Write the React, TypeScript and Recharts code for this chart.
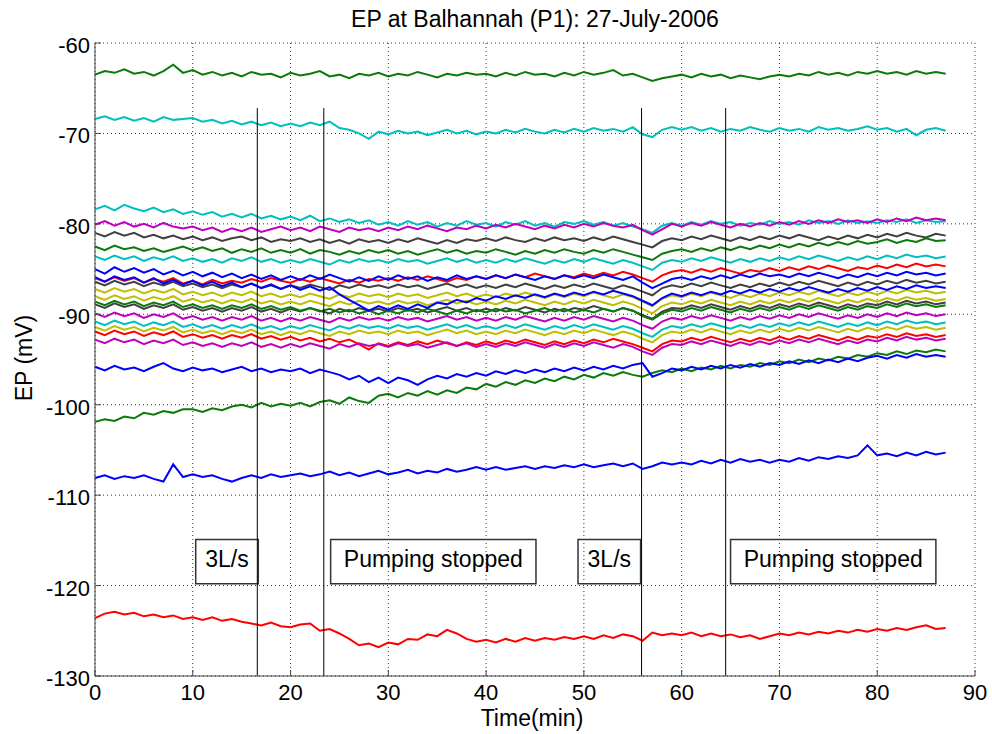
import { LineChart, Line, XAxis, YAxis, CartesianGrid, ReferenceLine, ReferenceArea } from 'recharts';

// time axis (minutes), one reading per minute
const TIME = [
  0, 1, 2, 3, 4, 5, 6, 7, 8, 9, 10, 11, 12, 13, 14, 15, 16, 17, 18, 19,
  20, 21, 22, 23, 24, 25, 26, 27, 28, 29, 30, 31, 32, 33, 34, 35, 36, 37, 38, 39,
  40, 41, 42, 43, 44, 45, 46, 47, 48, 49, 50, 51, 52, 53, 54, 55, 56, 57, 58, 59,
  60, 61, 62, 63, 64, 65, 66, 67, 68, 69, 70, 71, 72, 73, 74, 75, 76, 77, 78, 79,
  80, 81, 82, 83, 84, 85, 86, 87,
];

const X_TICKS = [0, 10, 20, 30, 40, 50, 60, 70, 80, 90];
const Y_TICKS = [-130, -120, -110, -100, -90, -80, -70, -60];

// electrode potentials (mV), one array per electrode
const EP01 = [
  -63.5,-63.1,-63.3,-62.9,-63.4,-63.2,-63.6,-63.1,-62.4,-63.3,
  -63.0,-63.5,-63.2,-63.6,-63.3,-63.7,-63.2,-63.5,-63.4,-63.8,
  -63.3,-63.6,-63.4,-63.1,-63.7,-63.5,-63.9,-63.4,-63.6,-63.3,
  -63.7,-63.4,-63.6,-63.2,-63.5,-63.8,-63.4,-63.6,-63.3,-63.5,
  -63.4,-63.7,-63.3,-63.6,-63.2,-63.5,-63.4,-63.7,-63.3,-63.6,
  -63.2,-63.5,-63.3,-63.0,-63.6,-63.4,-63.8,-64.2,-63.9,-63.7,
  -63.5,-63.8,-63.4,-63.7,-63.5,-63.9,-63.6,-63.8,-64.0,-63.7,
  -63.5,-63.7,-63.4,-63.6,-63.2,-63.5,-63.3,-63.6,-63.2,-63.4,
  -63.1,-63.4,-63.2,-63.5,-63.1,-63.4,-63.2,-63.4];
const EP02 = [
  -68.4,-68.1,-68.5,-68.2,-68.6,-68.3,-68.7,-68.2,-68.5,-68.4,
  -68.3,-68.7,-68.5,-68.9,-68.6,-69.0,-68.7,-69.1,-68.8,-69.2,
  -68.9,-69.2,-68.8,-69.1,-68.7,-69.4,-69.6,-70.0,-70.6,-69.8,
  -70.1,-69.7,-70.0,-69.8,-70.2,-69.9,-69.6,-70.0,-69.7,-70.1,
  -69.8,-70.0,-69.6,-69.9,-69.5,-69.8,-70.0,-69.6,-69.9,-69.5,
  -69.8,-69.4,-69.7,-69.5,-69.8,-69.3,-70.1,-70.4,-69.6,-69.3,
  -69.6,-69.3,-69.7,-69.4,-69.8,-69.5,-69.7,-69.3,-69.6,-69.8,
  -69.4,-69.7,-69.5,-69.8,-69.3,-69.6,-69.4,-69.7,-69.5,-69.2,
  -69.6,-69.4,-69.8,-69.5,-70.2,-69.6,-69.4,-69.7];
const EP03 = [
  -78.4,-78.0,-78.5,-77.9,-78.3,-78.6,-78.2,-78.7,-78.4,-78.9,
  -78.6,-79.0,-78.7,-79.2,-78.9,-79.3,-78.9,-79.4,-79.1,-79.5,
  -79.2,-79.6,-79.1,-79.7,-79.4,-79.8,-79.5,-79.9,-79.6,-80.1,
  -79.8,-80.2,-79.7,-80.1,-79.8,-80.3,-79.9,-80.2,-79.7,-80.1,
  -79.9,-80.3,-79.8,-80.1,-79.7,-80.2,-79.9,-80.3,-79.8,-80.0,
  -79.7,-80.1,-79.8,-80.2,-79.9,-80.3,-80.6,-81.0,-80.2,-79.9,
  -80.2,-79.8,-80.1,-79.7,-80.0,-79.8,-80.2,-79.9,-80.1,-79.7,
  -80.0,-79.8,-80.1,-79.6,-79.9,-79.7,-80.0,-79.6,-79.9,-79.7,
  -79.9,-79.6,-79.8,-79.5,-79.9,-79.6,-79.8,-79.7];
const EP04 = [
  -80.1,-79.7,-80.2,-79.8,-80.3,-80.0,-80.4,-79.9,-80.3,-80.5,
  -80.3,-80.7,-80.4,-80.9,-80.5,-80.8,-80.4,-80.9,-80.6,-80.3,
  -80.7,-80.4,-80.8,-80.3,-80.6,-80.9,-80.4,-80.7,-80.5,-80.8,
  -80.4,-80.7,-80.3,-80.6,-80.2,-80.5,-80.8,-80.4,-80.6,-80.2,
  -80.5,-80.1,-80.4,-80.0,-80.3,-80.6,-80.2,-80.5,-80.1,-80.4,
  -80.0,-80.3,-79.9,-80.2,-80.4,-80.1,-80.7,-81.2,-80.6,-80.0,
  -80.3,-79.9,-80.2,-79.8,-80.1,-80.4,-80.0,-80.3,-79.9,-80.2,
  -79.8,-80.1,-79.7,-80.0,-79.6,-79.9,-79.5,-79.8,-79.6,-79.9,
  -79.5,-79.8,-79.4,-79.7,-79.3,-79.6,-79.4,-79.6];
const EP05 = [
  -81.0,-81.4,-80.9,-81.3,-81.0,-81.5,-81.2,-81.6,-81.3,-81.7,
  -81.4,-81.8,-81.5,-81.9,-81.6,-81.4,-81.8,-81.5,-82.0,-81.7,
  -81.9,-81.6,-82.0,-81.7,-82.1,-81.8,-82.2,-81.7,-82.0,-81.8,
  -82.1,-81.7,-82.0,-81.6,-81.9,-82.2,-81.8,-82.1,-81.7,-81.9,
  -81.6,-81.9,-81.5,-81.8,-82.0,-81.6,-81.9,-81.5,-81.8,-81.6,
  -81.9,-81.5,-81.8,-81.4,-81.7,-82.0,-82.3,-82.6,-81.9,-81.6,
  -81.8,-81.4,-81.7,-81.3,-81.6,-81.9,-81.5,-81.8,-81.4,-81.7,
  -81.3,-81.6,-81.2,-81.5,-81.8,-81.4,-81.7,-81.3,-81.6,-81.2,
  -81.5,-81.1,-81.4,-81.0,-81.3,-81.5,-81.1,-81.3];
const EP06 = [
  -82.5,-82.9,-82.4,-82.8,-82.6,-83.0,-82.7,-83.1,-82.8,-82.5,
  -82.9,-82.6,-83.0,-82.7,-83.2,-82.8,-83.1,-82.7,-83.2,-82.9,
  -83.2,-82.8,-83.3,-82.9,-83.1,-83.4,-83.0,-83.3,-82.9,-83.2,
  -82.9,-83.3,-83.0,-83.4,-83.1,-82.8,-83.2,-82.9,-83.3,-83.0,
  -83.2,-82.8,-83.1,-83.4,-83.0,-83.3,-82.9,-83.2,-82.8,-83.1,
  -83.3,-82.9,-83.2,-82.8,-83.1,-83.4,-83.7,-84.0,-83.3,-83.0,
  -82.8,-83.1,-82.7,-83.0,-82.6,-82.9,-82.5,-82.8,-82.4,-82.7,
  -82.3,-82.6,-82.2,-82.5,-82.1,-82.4,-82.0,-82.3,-81.9,-82.2,
  -82.0,-81.7,-82.1,-81.8,-82.0,-81.6,-81.9,-81.8];
const EP07 = [
  -83.6,-84.0,-83.5,-83.9,-83.6,-84.1,-83.7,-84.0,-83.6,-84.1,
  -83.8,-84.2,-83.9,-84.3,-83.8,-84.1,-83.7,-84.2,-83.9,-84.3,
  -84.0,-84.3,-83.9,-84.2,-84.5,-84.0,-84.3,-83.9,-84.2,-84.0,
  -84.3,-83.9,-84.2,-84.0,-84.4,-84.1,-83.8,-84.2,-83.9,-84.3,
  -84.0,-84.3,-83.9,-84.2,-83.8,-84.1,-84.4,-84.0,-84.3,-83.9,
  -84.2,-83.8,-84.1,-84.4,-84.0,-84.3,-84.7,-85.1,-84.3,-84.0,
  -84.2,-83.8,-84.1,-83.7,-84.0,-84.3,-83.9,-84.2,-83.8,-84.1,
  -83.7,-84.0,-83.6,-83.9,-83.5,-83.8,-84.1,-83.7,-84.0,-83.6,
  -83.9,-83.5,-83.8,-83.4,-83.7,-83.5,-83.8,-83.6];
const EP08 = [
  -85.0,-85.5,-84.8,-85.3,-84.9,-85.4,-85.0,-85.6,-85.2,-85.7,
  -85.3,-85.8,-85.4,-85.9,-85.5,-86.0,-85.6,-86.1,-85.7,-86.2,
  -85.8,-86.2,-85.7,-86.1,-85.6,-86.0,-86.4,-85.9,-86.3,-85.8,
  -86.2,-85.7,-86.1,-85.8,-86.3,-85.9,-86.2,-85.7,-86.1,-85.8,
  -86.1,-85.7,-86.0,-85.6,-85.9,-86.2,-85.8,-86.1,-85.7,-86.0,
  -85.7,-86.0,-85.6,-85.9,-86.2,-85.8,-86.5,-87.1,-86.6,-86.1,
  -85.9,-86.2,-85.8,-86.1,-85.7,-86.0,-85.6,-85.9,-85.5,-85.8,
  -85.6,-85.9,-85.5,-85.8,-85.4,-85.7,-86.0,-85.6,-85.9,-85.5,
  -85.8,-85.4,-85.7,-85.3,-85.6,-85.4,-85.7,-85.5];
const EP09 = [
  -86.0,-86.4,-85.9,-86.3,-86.0,-86.5,-86.1,-86.4,-86.0,-86.6,
  -86.3,-86.7,-86.2,-86.6,-86.3,-86.5,-86.1,-86.4,-86.0,-86.3,
  -86.5,-86.1,-86.4,-86.0,-86.3,-86.6,-86.2,-86.5,-86.1,-86.3,
  -86.0,-86.3,-85.9,-86.2,-85.8,-86.1,-86.4,-86.0,-86.2,-85.8,
  -86.1,-85.7,-86.0,-85.6,-85.9,-85.5,-85.8,-86.1,-85.7,-85.9,
  -85.5,-85.8,-85.4,-85.7,-85.3,-85.6,-86.0,-86.4,-85.7,-85.3,
  -85.1,-85.4,-85.0,-85.3,-84.9,-85.2,-85.5,-85.1,-85.3,-84.9,
  -85.2,-84.8,-85.1,-84.7,-85.0,-84.6,-84.9,-85.2,-84.8,-85.0,
  -84.6,-84.9,-84.5,-84.8,-84.4,-84.7,-84.5,-84.7];
const EP10 = [
  -86.4,-86.8,-86.3,-86.7,-86.4,-86.9,-86.5,-86.8,-86.4,-86.9,
  -86.6,-87.0,-86.7,-87.1,-86.7,-87.0,-86.6,-87.1,-86.8,-87.2,
  -86.8,-87.1,-86.7,-87.0,-87.3,-86.8,-87.1,-86.7,-87.0,-86.8,
  -87.1,-86.7,-87.0,-86.8,-87.2,-86.9,-86.6,-87.0,-86.7,-87.1,
  -86.8,-87.1,-86.7,-87.0,-86.6,-86.9,-87.2,-86.8,-87.1,-86.7,
  -87.0,-86.6,-86.9,-87.2,-86.8,-87.1,-87.5,-87.9,-87.1,-86.8,
  -87.0,-86.6,-86.9,-86.5,-86.8,-87.1,-86.7,-87.0,-86.6,-86.9,
  -86.5,-86.8,-86.4,-86.7,-86.3,-86.6,-86.9,-86.5,-86.8,-86.4,
  -86.7,-86.3,-86.6,-86.2,-86.5,-86.3,-86.6,-86.4];
const EP11 = [
  -85.9,-86.4,-85.8,-86.2,-85.9,-86.5,-86.0,-86.6,-86.2,-86.7,
  -86.3,-86.8,-86.4,-86.9,-86.5,-87.0,-86.6,-87.1,-86.7,-87.2,
  -86.8,-87.3,-86.9,-87.4,-87.0,-87.8,-88.4,-89.0,-89.6,-89.1,
  -89.5,-89.0,-89.4,-88.9,-89.3,-88.7,-88.9,-88.4,-88.7,-88.2,
  -88.5,-88.0,-88.3,-87.9,-88.2,-87.8,-88.1,-87.7,-88.0,-87.6,
  -87.9,-87.5,-87.8,-87.4,-87.7,-88.0,-88.5,-89.0,-88.2,-87.7,
  -88.0,-87.6,-87.9,-87.5,-87.8,-87.4,-87.7,-87.3,-87.6,-87.2,
  -87.5,-87.1,-87.4,-87.0,-87.3,-87.6,-87.2,-87.5,-87.1,-87.4,
  -87.0,-87.3,-86.9,-87.2,-86.8,-87.1,-86.9,-87.1];
const EP12 = [
  -87.2,-87.6,-87.1,-87.5,-87.2,-87.7,-87.3,-87.6,-87.2,-87.8,
  -87.5,-87.9,-87.6,-88.0,-87.6,-87.9,-87.5,-88.0,-87.7,-88.1,
  -87.8,-88.1,-87.7,-88.0,-88.3,-87.8,-88.1,-87.7,-88.0,-87.8,
  -88.1,-87.7,-88.0,-87.8,-88.2,-87.9,-87.6,-88.0,-87.7,-88.1,
  -87.8,-88.1,-87.7,-88.0,-87.6,-87.9,-88.2,-87.8,-88.1,-87.7,
  -88.0,-87.6,-87.9,-88.2,-87.8,-88.1,-88.6,-89.1,-88.3,-87.9,
  -88.1,-87.7,-88.0,-87.6,-87.9,-88.2,-87.8,-88.1,-87.7,-88.0,
  -87.6,-87.9,-87.5,-87.8,-87.4,-87.7,-88.0,-87.6,-87.9,-87.5,
  -87.8,-87.4,-87.7,-87.3,-87.6,-87.4,-87.7,-87.5];
const EP13 = [
  -88.0,-88.4,-87.9,-88.3,-88.0,-88.5,-88.1,-88.4,-88.0,-88.6,
  -88.3,-88.7,-88.4,-88.8,-88.4,-88.7,-88.3,-88.8,-88.5,-88.9,
  -88.6,-88.9,-88.5,-88.8,-89.1,-88.6,-88.9,-88.5,-88.8,-88.6,
  -88.9,-88.5,-88.8,-88.6,-89.0,-88.7,-88.4,-88.8,-88.5,-88.9,
  -88.6,-88.9,-88.5,-88.8,-88.4,-88.7,-89.0,-88.6,-88.9,-88.5,
  -88.8,-88.4,-88.7,-89.0,-88.6,-88.9,-89.4,-89.9,-89.1,-88.7,
  -88.9,-88.5,-88.8,-88.4,-88.7,-89.0,-88.6,-88.9,-88.5,-88.8,
  -88.4,-88.7,-88.3,-88.6,-88.2,-88.5,-88.8,-88.4,-88.7,-88.3,
  -88.6,-88.2,-88.5,-88.1,-88.4,-88.2,-88.5,-88.3];
const EP14 = [
  -88.9,-89.3,-88.8,-89.2,-88.9,-89.4,-89.0,-89.3,-88.9,-89.5,
  -89.2,-89.6,-89.3,-89.7,-89.3,-89.6,-89.2,-89.7,-89.4,-89.8,
  -89.4,-89.7,-89.3,-89.6,-89.9,-89.4,-89.7,-89.3,-89.6,-89.4,
  -89.7,-89.3,-89.6,-89.4,-89.8,-89.5,-89.2,-89.6,-89.3,-89.7,
  -89.4,-89.7,-89.3,-89.6,-89.2,-89.5,-89.8,-89.4,-89.7,-89.3,
  -89.5,-89.1,-89.4,-89.7,-89.3,-89.6,-90.1,-90.5,-89.7,-89.3,
  -89.4,-89.0,-89.3,-88.9,-89.2,-89.5,-89.1,-89.4,-89.0,-89.3,
  -88.9,-89.2,-88.8,-89.1,-88.7,-89.0,-89.3,-88.9,-89.2,-88.8,
  -89.0,-88.6,-88.9,-88.5,-88.8,-88.6,-88.9,-88.7];
const EP15 = [
  -88.6,-89.0,-88.5,-88.9,-88.6,-89.1,-88.7,-89.0,-88.6,-89.2,
  -88.9,-89.3,-89.0,-89.4,-89.0,-89.3,-88.9,-89.4,-89.1,-89.5,
  -89.2,-89.6,-89.3,-89.7,-89.4,-89.8,-89.5,-89.9,-89.6,-90.0,
  -89.6,-89.9,-89.5,-89.8,-89.4,-89.7,-90.0,-89.6,-89.9,-89.5,
  -89.8,-89.4,-89.7,-89.5,-89.9,-89.6,-89.3,-89.7,-89.4,-89.8,
  -89.5,-89.8,-89.4,-89.7,-89.3,-89.6,-90.2,-90.6,-89.9,-89.5,
  -89.7,-89.3,-89.6,-89.2,-89.5,-89.8,-89.4,-89.7,-89.3,-89.6,
  -89.2,-89.5,-89.1,-89.4,-89.0,-89.3,-89.6,-89.2,-89.5,-89.1,
  -89.3,-88.9,-89.2,-88.8,-89.1,-88.9,-89.2,-89.0];
const EP16 = [
  -89.9,-90.3,-89.8,-90.2,-89.9,-90.4,-90.0,-90.3,-89.9,-90.5,
  -90.2,-90.6,-90.3,-90.7,-90.3,-90.6,-90.2,-90.7,-90.4,-90.8,
  -90.4,-90.7,-90.3,-90.6,-90.9,-90.4,-90.7,-90.3,-90.6,-90.4,
  -90.7,-90.3,-90.6,-90.4,-90.8,-90.5,-90.2,-90.6,-90.3,-90.7,
  -90.4,-90.7,-90.3,-90.6,-90.2,-90.5,-90.8,-90.4,-90.7,-90.3,
  -90.6,-90.2,-90.5,-90.8,-90.4,-90.7,-91.2,-91.6,-90.8,-90.4,
  -90.6,-90.2,-90.5,-90.1,-90.4,-90.7,-90.3,-90.6,-90.2,-90.5,
  -90.1,-90.4,-90.0,-90.3,-89.9,-90.2,-90.5,-90.1,-90.4,-90.0,
  -90.3,-89.9,-90.2,-89.8,-90.1,-89.9,-90.2,-90.0];
const EP17 = [
  -90.8,-91.2,-90.7,-91.1,-90.8,-91.3,-90.9,-91.2,-90.8,-91.4,
  -91.1,-91.5,-91.2,-91.6,-91.2,-91.5,-91.1,-91.6,-91.3,-91.7,
  -91.3,-91.6,-91.2,-91.5,-91.8,-91.3,-91.6,-91.2,-91.5,-91.3,
  -91.6,-91.2,-91.5,-91.3,-91.7,-91.4,-91.1,-91.5,-91.2,-91.6,
  -91.3,-91.6,-91.2,-91.5,-91.1,-91.4,-91.7,-91.3,-91.6,-91.2,
  -91.5,-91.1,-91.4,-91.7,-91.3,-91.6,-92.1,-92.5,-91.7,-91.3,
  -91.5,-91.1,-91.4,-91.0,-91.3,-91.6,-91.2,-91.5,-91.1,-91.4,
  -91.0,-91.3,-90.9,-91.2,-90.8,-91.1,-91.4,-91.0,-91.3,-90.9,
  -91.2,-90.8,-91.1,-90.7,-91.0,-90.8,-91.1,-90.9];
const EP18 = [
  -91.4,-91.8,-91.3,-91.7,-91.4,-91.9,-91.5,-91.8,-91.4,-92.0,
  -91.7,-92.1,-91.8,-92.2,-91.8,-92.1,-91.7,-92.2,-91.9,-92.3,
  -91.9,-92.2,-91.8,-92.1,-92.4,-91.9,-92.2,-91.8,-92.1,-91.9,
  -92.2,-91.8,-92.1,-91.9,-92.3,-92.0,-91.7,-92.1,-91.8,-92.2,
  -91.9,-92.2,-91.8,-92.1,-91.7,-92.0,-92.3,-91.9,-92.2,-91.8,
  -92.1,-91.7,-92.0,-92.3,-91.9,-92.2,-92.7,-93.1,-92.3,-91.9,
  -92.1,-91.7,-92.0,-91.6,-91.9,-92.2,-91.8,-92.1,-91.7,-92.0,
  -91.6,-91.9,-91.5,-91.8,-91.4,-91.7,-92.0,-91.6,-91.9,-91.5,
  -91.8,-91.4,-91.7,-91.3,-91.6,-91.4,-91.7,-91.5];
const EP19 = [
  -91.9,-92.3,-91.8,-92.2,-91.9,-92.4,-92.0,-92.3,-91.9,-92.5,
  -92.2,-92.6,-92.3,-92.7,-92.3,-92.6,-92.2,-92.7,-92.4,-92.8,
  -92.5,-92.9,-92.6,-93.0,-92.7,-93.1,-92.8,-93.3,-93.9,-93.2,
  -93.5,-93.1,-93.4,-93.0,-93.3,-92.9,-93.2,-93.5,-93.1,-93.4,
  -93.0,-93.3,-92.9,-93.2,-92.8,-93.1,-93.4,-93.0,-93.3,-92.9,
  -93.2,-92.8,-93.1,-92.7,-93.0,-93.3,-93.7,-94.1,-93.3,-92.9,
  -93.0,-92.6,-92.9,-92.5,-92.8,-93.1,-92.7,-93.0,-92.6,-92.9,
  -92.5,-92.8,-92.4,-92.7,-92.3,-92.6,-92.9,-92.5,-92.8,-92.4,
  -92.6,-92.2,-92.5,-92.1,-92.4,-92.2,-92.5,-92.3];
const EP20 = [
  -92.8,-93.2,-92.7,-93.1,-92.8,-93.3,-92.9,-93.2,-92.8,-93.4,
  -93.1,-93.5,-93.2,-93.6,-93.2,-93.5,-93.1,-93.6,-93.3,-93.7,
  -93.3,-93.6,-93.2,-93.5,-93.8,-93.3,-93.6,-93.2,-93.5,-93.3,
  -93.6,-93.2,-93.5,-93.3,-93.7,-93.4,-93.1,-93.5,-93.2,-93.6,
  -93.3,-93.6,-93.2,-93.5,-93.1,-93.4,-93.7,-93.3,-93.6,-93.2,
  -93.5,-93.1,-93.4,-93.7,-93.3,-93.6,-94.1,-94.5,-93.7,-93.3,
  -93.4,-93.0,-93.3,-92.9,-93.2,-93.5,-93.1,-93.4,-93.0,-93.3,
  -92.9,-93.2,-92.8,-93.1,-92.7,-93.0,-93.3,-92.9,-93.2,-92.8,
  -93.0,-92.6,-92.9,-92.5,-92.8,-92.6,-92.9,-92.7];
const EP21 = [
  -95.8,-96.2,-95.7,-96.1,-95.9,-96.3,-95.8,-95.4,-96.0,-96.3,
  -95.9,-96.2,-96.0,-96.4,-96.1,-95.8,-96.3,-96.0,-96.4,-96.1,
  -96.3,-96.0,-96.5,-96.1,-96.4,-96.7,-97.2,-96.8,-97.5,-97.0,
  -97.6,-97.0,-97.3,-97.8,-97.2,-96.8,-97.1,-96.6,-96.9,-96.5,
  -96.8,-96.3,-96.6,-96.2,-96.5,-96.1,-96.4,-96.0,-96.3,-95.9,
  -96.2,-95.8,-96.1,-95.7,-96.0,-95.6,-95.4,-96.9,-96.5,-96.0,
  -96.2,-95.8,-96.1,-95.7,-96.0,-95.6,-95.9,-95.5,-95.8,-95.4,
  -95.6,-95.2,-95.5,-95.1,-95.4,-95.0,-95.3,-94.9,-95.2,-94.8,
  -94.6,-94.9,-94.5,-94.8,-94.4,-94.7,-94.5,-94.7];
const EP22 = [
  -101.9,-101.6,-101.8,-101.3,-101.5,-100.9,-101.1,-100.7,-100.9,-100.5,
  -100.5,-100.8,-100.4,-100.6,-100.2,-100.0,-100.3,-99.8,-100.2,-99.9,
  -100.1,-99.8,-100.2,-99.7,-99.5,-99.9,-99.2,-99.6,-99.8,-99.0,
  -98.8,-99.2,-98.7,-99.0,-98.5,-98.9,-98.4,-98.7,-98.1,-98.3,
  -97.7,-98.0,-97.5,-97.8,-97.3,-97.6,-97.1,-97.4,-96.9,-97.2,
  -96.7,-97.0,-96.5,-96.8,-96.4,-96.7,-96.9,-96.5,-96.2,-96.4,
  -96.0,-96.3,-95.9,-96.1,-95.7,-96.0,-95.6,-95.8,-95.4,-95.6,
  -95.2,-95.4,-95.0,-95.3,-94.9,-95.1,-94.7,-94.9,-94.5,-94.7,
  -94.3,-94.5,-94.1,-94.4,-94.0,-94.2,-93.9,-94.1];
const EP23 = [
  -108.1,-107.8,-108.2,-107.9,-108.1,-107.8,-108.2,-108.5,-106.6,-108.0,
  -107.7,-108.0,-107.8,-108.2,-108.5,-108.1,-107.8,-108.1,-107.7,-108.0,
  -107.8,-107.6,-107.9,-107.7,-107.4,-107.8,-107.5,-107.9,-107.6,-107.3,
  -107.7,-107.5,-107.2,-107.6,-107.3,-107.5,-107.1,-107.4,-107.2,-106.9,
  -107.2,-106.9,-107.2,-107.0,-106.8,-107.1,-106.8,-107.0,-106.7,-106.9,
  -106.6,-106.9,-106.7,-106.5,-106.8,-106.5,-107.1,-106.8,-106.4,-106.6,
  -106.4,-106.6,-106.2,-106.5,-106.1,-106.4,-106.0,-106.3,-106.1,-106.4,
  -106.1,-106.3,-105.9,-106.2,-105.8,-106.0,-105.7,-105.9,-105.6,-104.5,
  -105.6,-105.4,-105.7,-105.3,-105.6,-105.2,-105.5,-105.3];
const EP24 = [
  -123.6,-123.1,-122.9,-123.2,-123.0,-123.4,-123.2,-123.5,-123.3,-123.7,
  -123.5,-123.8,-123.5,-123.9,-123.7,-124.0,-124.2,-124.4,-124.1,-124.5,
  -124.6,-124.3,-124.2,-125.0,-124.8,-125.3,-125.9,-126.6,-126.4,-126.8,
  -126.3,-126.5,-125.9,-126.0,-125.4,-125.6,-124.9,-125.3,-125.9,-126.2,
  -126.0,-126.3,-125.9,-126.2,-125.8,-126.1,-125.8,-126.0,-125.7,-125.9,
  -125.6,-125.9,-125.5,-125.8,-125.4,-125.6,-126.1,-125.2,-125.5,-125.3,
  -125.5,-125.2,-125.6,-125.3,-125.6,-125.4,-125.7,-125.5,-125.9,-125.6,
  -125.3,-125.5,-125.2,-125.4,-125.1,-125.3,-125.0,-125.2,-124.9,-125.1,
  -124.8,-125.0,-124.7,-124.9,-124.6,-124.4,-124.8,-124.7];

// pumping events: vertical markers and the text boxes
const EVENT_TIMES = [16.6, 23.4, 55.9, 64.5];
const EVENT_TOP = -67.2;
const NOTE_TEXT = ['3L/s', 'Pumping stopped', '3L/s', 'Pumping stopped'];
const NOTE_X1 = [10.3, 24.1, 49.4, 65.0];
const NOTE_X2 = [16.7, 45.1, 55.8, 86.0];
const NOTE_Y1 = -114.9;
const NOTE_Y2 = -119.8;

const BLUE = '#0000ff';
const GREEN = '#0a7a0a';
const RED = '#ff0000';
const CYAN = '#00bfbf';
const MAGENTA = '#bf00bf';
const YELLOW = '#bfbf00';
const DKGRAY = '#404040';

// drawing order (later = on top)
const SERIES = [
  { key: 'ep01', values: EP01, color: GREEN },
  { key: 'ep02', values: EP02, color: CYAN },
  { key: 'ep03', values: EP03, color: CYAN },
  { key: 'ep05', values: EP05, color: DKGRAY },
  { key: 'ep06', values: EP06, color: GREEN },
  { key: 'ep07', values: EP07, color: CYAN },
  { key: 'ep04', values: EP04, color: MAGENTA },
  { key: 'ep09', values: EP09, color: RED },
  { key: 'ep10', values: EP10, color: DKGRAY },
  { key: 'ep12', values: EP12, color: YELLOW },
  { key: 'ep13', values: EP13, color: YELLOW },
  { key: 'ep14', values: EP14, color: DKGRAY },
  { key: 'ep15', values: EP15, color: GREEN },
  { key: 'ep17', values: EP17, color: CYAN },
  { key: 'ep18', values: EP18, color: YELLOW },
  { key: 'ep16', values: EP16, color: MAGENTA },
  { key: 'ep19', values: EP19, color: RED },
  { key: 'ep20', values: EP20, color: MAGENTA },
  { key: 'ep08', values: EP08, color: BLUE },
  { key: 'ep11', values: EP11, color: BLUE },
  { key: 'ep22', values: EP22, color: GREEN },
  { key: 'ep21', values: EP21, color: BLUE },
  { key: 'ep23', values: EP23, color: BLUE },
  { key: 'ep24', values: EP24, color: RED },
];

const data = TIME.map((t, i) => {
  const row: Record<string, number> = { t };
  SERIES.forEach((s) => {
    row[s.key] = s.values[i];
  });
  return row;
});

const FONT = '"Liberation Sans", Arial, sans-serif';
const FRAME = '#444';

const BottomTick = (props: any) => {
  const { x, y, payload } = props;
  return (
    <g>
      <line x1={x} y1={y} x2={x} y2={y - 6} stroke={FRAME} />
      <text x={x} y={y + 24} textAnchor="middle" fontSize={22} fill="#000" fontFamily={FONT}>
        {payload.value}
      </text>
    </g>
  );
};

const TopTick = (props: any) => {
  const { x, y } = props;
  return <line x1={x} y1={y} x2={x} y2={y + 6} stroke={FRAME} />;
};

const LeftTick = (props: any) => {
  const { x, y, payload } = props;
  return (
    <g>
      <line x1={x} y1={y} x2={x + 6} y2={y} stroke={FRAME} />
      <text x={x - 5} y={y + 10} textAnchor="end" fontSize={22} fill="#000" fontFamily={FONT}>
        {payload.value}
      </text>
    </g>
  );
};

const RightTick = (props: any) => {
  const { x, y } = props;
  return <line x1={x} y1={y} x2={x - 6} y2={y} stroke={FRAME} />;
};

export default function App() {
  return (
    <div style={{ position: 'absolute', left: 0, top: 0, width: 992, height: 734, background: '#fff', fontFamily: FONT }}>
      <LineChart width={992} height={734} data={data} margin={{ top: 43, right: 17, left: 0, bottom: 0 }}>
        <CartesianGrid stroke="#333" strokeDasharray="1 3" />
        <XAxis
          dataKey="t"
          type="number"
          domain={[0, 90]}
          ticks={X_TICKS}
          interval={0}
          height={58}
          tickSize={0}
          tickMargin={0}
          tick={BottomTick}
          tickLine={false}
          axisLine={{ stroke: FRAME }}
        />
        <XAxis
          xAxisId="top"
          orientation="top"
          dataKey="t"
          type="number"
          domain={[0, 90]}
          ticks={X_TICKS}
          interval={0}
          height={0}
          tickSize={0}
          tickMargin={0}
          tick={TopTick}
          tickLine={false}
          axisLine={{ stroke: FRAME }}
        />
        <YAxis
          type="number"
          domain={[-130, -60]}
          ticks={Y_TICKS}
          interval={0}
          width={95}
          tickSize={0}
          tickMargin={0}
          tick={LeftTick}
          tickLine={false}
          axisLine={{ stroke: FRAME }}
        />
        <YAxis
          yAxisId="right"
          orientation="right"
          type="number"
          domain={[-130, -60]}
          ticks={Y_TICKS}
          interval={0}
          width={0}
          tickSize={0}
          tickMargin={0}
          tick={RightTick}
          tickLine={false}
          axisLine={{ stroke: FRAME }}
        />
        {SERIES.map((s) => (
          <Line
            key={s.key}
            dataKey={s.key}
            stroke={s.color}
            strokeWidth={2}
            strokeLinejoin="miter"
            dot={false}
            activeDot={false}
            isAnimationActive={false}
          />
        ))}
        {EVENT_TIMES.map((t) => (
          <ReferenceLine
            key={`ev-${t}`}
            segment={[{ x: t, y: EVENT_TOP }, { x: t, y: -130 }]}
            stroke="#000"
            strokeWidth={1}
          />
        ))}
        {NOTE_TEXT.map((txt, i) => (
          <ReferenceArea
            key={`note-${i}`}
            x1={NOTE_X1[i]}
            x2={NOTE_X2[i]}
            y1={NOTE_Y1}
            y2={NOTE_Y2}
            fill="none"
            fillOpacity={0}
            stroke="#333"
            strokeWidth={1.5}
            label={{ value: txt, position: 'center', fontSize: 23, fill: '#000', fontFamily: FONT, dy: -3 }}
          />
        ))}
      </LineChart>
      <svg width={992} height={734} style={{ position: 'absolute', left: 0, top: 0, pointerEvents: 'none' }}>
        <text x={535} y={27} textAnchor="middle" fontSize={23} fontFamily={FONT} fill="#000">
          EP at Balhannah (P1): 27-July-2006
        </text>
        <text x={532} y={726} textAnchor="middle" fontSize={23} fontFamily={FONT} fill="#000">
          Time(min)
        </text>
        <text transform="translate(32,358) rotate(-90)" textAnchor="middle" fontSize={23} fontFamily={FONT} fill="#000">
          EP (mV)
        </text>
      </svg>
    </div>
  );
}
